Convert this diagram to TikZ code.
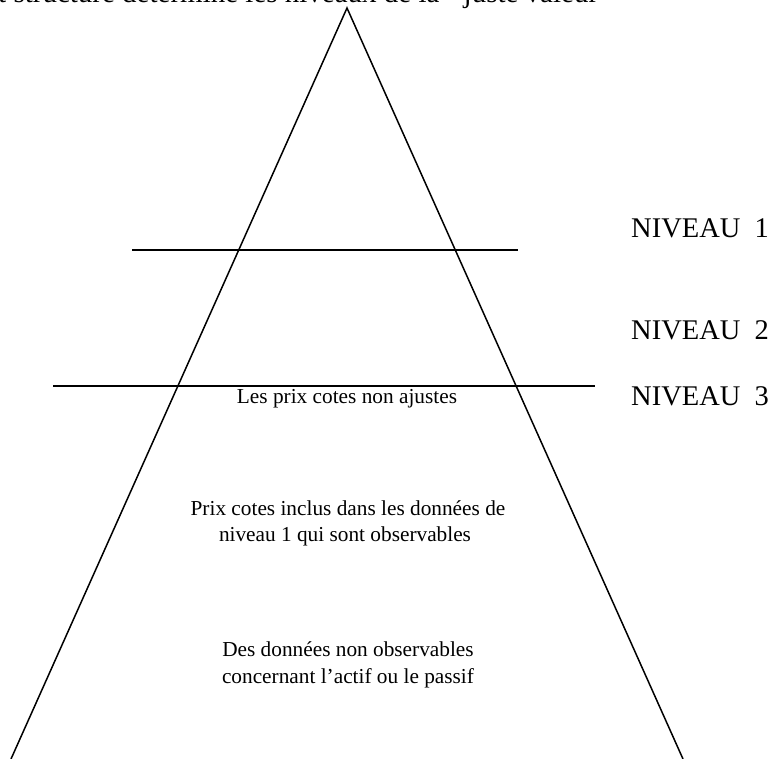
\documentclass[tikz,border=0pt]{standalone}
\usepackage{fontspec}
\setmainfont{Liberation Serif}
\begin{document}
\begin{tikzpicture}[x=1pt,y=-1pt,
  edge/.style={line width=1.5pt, line join=miter},
  big/.style={font=\fontsize{28.5}{34}\selectfont, inner sep=0pt},
  small/.style={font=\fontsize{21.3}{26.5}\selectfont, inner sep=0pt}]
\clip (0,0) rectangle (777,759);
% pyramid
\coordinate (apex) at (347,8);
\coordinate (bl) at (11,759);
\coordinate (br) at (683,759);
\coordinate (l1a) at (132,250);
\coordinate (l1b) at (518,250);
\coordinate (l2a) at (53,386);
\coordinate (l2b) at (595,386);
\draw[edge] (bl) -- (apex) -- (br);
\draw[edge] (l1a) -- (l1b);
\draw[edge] (l2a) -- (l2b);
% title (clipped at top, as in the reference)
\node[big, anchor=base west, font=\fontsize{29}{34}\selectfont] (title) at (-2,3) {t structure determine les niveaux de la\ \ `juste valeur'};
% levels
\node[big, anchor=base west] (n1) at (631,238) {NIVEAU\ \ 1};
\node[big, anchor=base west] (n2) at (631,340) {NIVEAU\ \ 2};
\node[big, anchor=base west] (n3) at (631,406) {NIVEAU\ \ 3};
% texts
\node[small, anchor=base] (t1) at (347,403) {Les prix cotes non ajustes};
\node[small, anchor=base] (t2a) at (348,515) {Prix cotes inclus dans les données de};
\node[small, anchor=base] (t2b) at (345,541.5) {niveau 1 qui sont observables};
\node[small, anchor=base] (t3a) at (348,656.5) {Des données non observables};
\node[small, anchor=base] (t3b) at (348,683) {concernant l’actif ou le passif};
\end{tikzpicture}
\end{document}
